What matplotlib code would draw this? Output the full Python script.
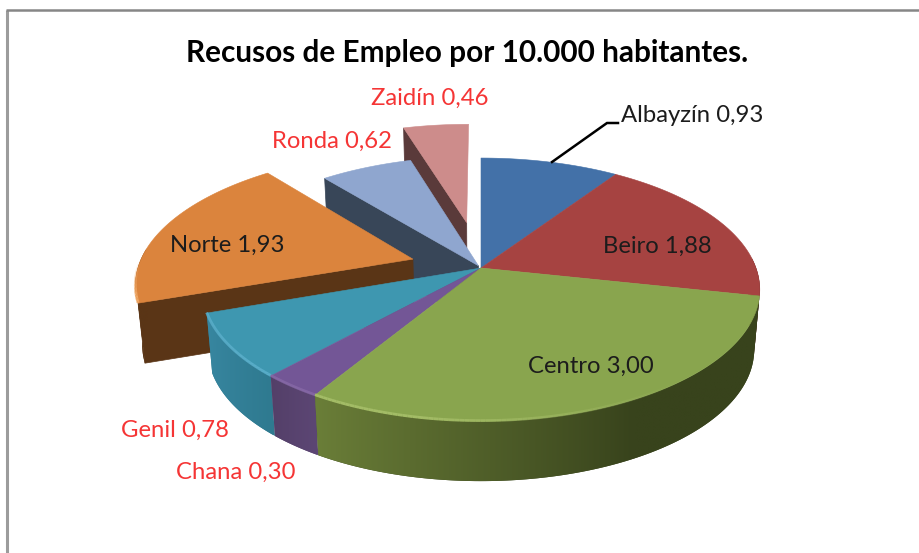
import numpy as np
import matplotlib
matplotlib.use('Agg')
import matplotlib.pyplot as plt
from matplotlib.patches import Polygon

plt.rcParams['font.family'] = ['Lato', 'DejaVu Sans']

# data
names = ['Albayzín', 'Beiro', 'Centro', 'Chana', 'Genil', 'Norte', 'Ronda', 'Zaidín']
values = [0.93, 1.88, 3.00, 0.30, 0.78, 1.93, 0.62, 0.46]
title = 'Recusos de Empleo por 10.000 habitantes.'

# styles and layout
explode = [0, 0, 0, 0, 0, 0.26, 0.02, 0.38]
top_colors = ['#4371a8', '#a64341', '#89a54e', '#735696', '#3e97b0', '#db843d', '#8fa6cf', '#cd8c8b']
wall_start = ['#2b4a70', '#5a2020', '#38431c', '#5c4674', '#2f7a90', '#5a3516', '#384658', '#5a3a3a']
wall_end = ['#2b4a70', '#4c1d1c', '#6c8039', '#523e66', '#3a8aa5', '#5a3516', '#384658', '#5a3a3a']
rim_colors = [None, None, '#a3bc66', '#8a6caa', '#5cb0cc', '#f0a866', None, None]
face_colors = {5: '#5a3516', 6: '#384658', 7: '#5a3a3a'}
label_pos = [(692, 116), (657, 246), (591, 366), (236, 472), (175, 430), (227, 245), (332, 141), (430, 98)]
label_red = [False, False, False, True, True, False, True, True]

cx, cy = 481, 268
a, b, k = 275, 128, 0.164
depth = 60
shrink = 0.98


def project(t, e, mid):
    # t in degrees, clockwise from the top of the pie
    t = np.radians(t)
    m = np.radians(mid)
    x = e * np.sin(m) + np.sin(t)
    c = e * np.cos(m) + np.cos(t)
    w = 1 + k * c
    return cx + a * x / w, cy - b * c / w


def lower(px, py):
    return cx + shrink * (px - cx), py + depth


def wall_image(i, xs, ts):
    # colours by x, from the start colour to the end colour of the slice
    c0 = np.array(matplotlib.colors.to_rgb(wall_start[i]))
    c1 = np.array(matplotlib.colors.to_rgb(wall_end[i]))
    grid = np.linspace(xs.min(), xs.max(), 200)
    idx = np.argsort(xs)
    f = np.interp(grid, xs[idx], np.linspace(0, 1, len(ts))[idx])
    if i == 2:
        # Centro stays dark on its right part
        f = np.clip((f - 0.45) / 0.55, 0, 1)
    return (c0 + (c1 - c0) * f[:, None])[None, :, :], grid


fig = plt.figure(figsize=(9.19, 5.53), dpi=100)
ax = fig.add_axes([0, 0, 1, 1])
ax.set_xlim(0, 919)
ax.set_ylim(553, 0)
ax.axis('off')

# frame of the pasted picture
ax.plot([6.5, 6.5], [553, 9.5], color='#9c9c9c', lw=2.2, solid_capstyle='butt')
ax.plot([5.5, 919], [9.5, 9.5], color='#868686', lw=1.8, solid_capstyle='butt')

angles = np.concatenate([[0], np.cumsum(values) / np.sum(values) * 360])
# far slices first, the whole pie last
order = [7, 6, 5, 0, 1, 4, 3, 2]

for i in order:
    t0, t1 = angles[i], angles[i + 1]
    mid = (t0 + t1) / 2
    e = explode[i]
    ts = np.linspace(t0, t1, 120)
    px, py = project(ts, e, mid)
    # apex of the slice
    m = np.radians(mid)
    w = 1 + k * e * np.cos(m)
    apx = cx + a * e * np.sin(m) / w
    apy = cy - b * e * np.cos(m) / w

    # radial side of the slices pulled out
    if i in face_colors:
        lx0, ly0 = lower(apx, apy)
        lx1, ly1 = lower(px[0], py[0])
        ax.add_patch(Polygon([(apx, apy), (px[0], py[0]), (lx1, ly1), (lx0, ly0)],
                             fc=face_colors[i], ec=face_colors[i], lw=0.5))

    # outer wall only where it faces the viewer
    front = (ts > 85) & (ts < 275)
    if front.sum() > 1:
        fx, fy = px[front], py[front]
        lx, ly = lower(fx, fy)
        outline = np.column_stack([np.r_[fx, lx[::-1]], np.r_[fy, ly[::-1]]])
        shape = Polygon(outline, fc=wall_start[i], ec='none')
        ax.add_patch(shape)
        img, grid = wall_image(i, np.r_[fx], ts[front])
        im = ax.imshow(img, extent=[grid[0] - 8, grid[-1] + 1, ly.max() + 2, fy.min() - 2],
                       aspect='auto', interpolation='bilinear', zorder=shape.get_zorder())
        im.set_clip_path(shape)
        ax.set_xlim(0, 919)
        ax.set_ylim(553, 0)

    # top surface
    ax.add_patch(Polygon(np.column_stack([np.r_[apx, px], np.r_[apy, py]]),
                         fc=top_colors[i], ec=top_colors[i], lw=0.4, zorder=2))

    # light rim along the front edge
    if rim_colors[i]:
        for j in range(len(ts) - 1):
            f = np.clip((ts[j] - 140) / 50, 0, 1)
            if i == 5:
                f = np.clip((268 - ts[j]) / 15, 0, 1)
            if f > 0:
                ax.plot(px[j:j + 2], py[j:j + 2] - 0.5, color=rim_colors[i], alpha=f, lw=2,
                        solid_capstyle='butt', zorder=2)

# leader line of the first label
ax.plot([552, 607, 618], [162, 123, 123], color='black', lw=1.8, solid_joinstyle='miter', zorder=3)

ax.text(467, 53, title, fontsize=21.4, fontweight='bold', color='black', ha='center', va='center', zorder=4)
for name, val, pos, red in zip(names, values, label_pos, label_red):
    txt = f'{name} {val:.2f}'.replace('.', ',')
    ax.text(pos[0], pos[1], txt, fontsize=17.2, color='#f53535' if red else '#1c1c1c',
            ha='center', va='center', zorder=4)

fig.savefig('out.png', dpi=100)
